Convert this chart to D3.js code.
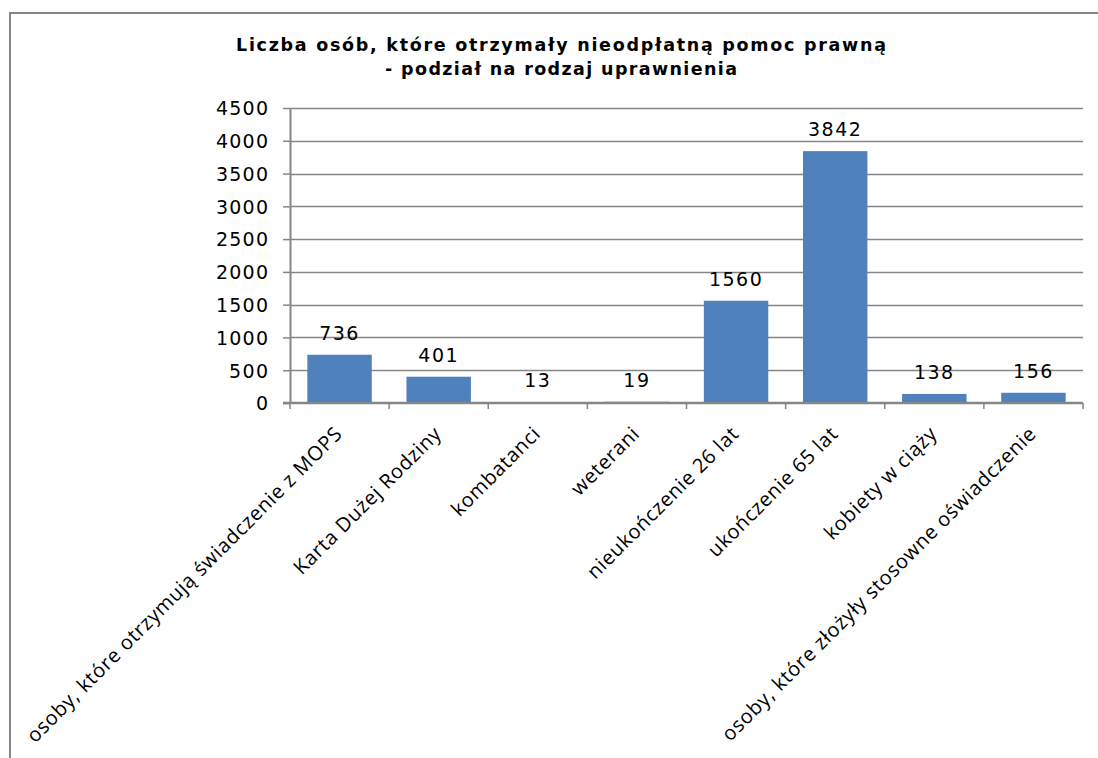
<!DOCTYPE html>
<meta charset="utf-8">
<title>Liczba osób - pomoc prawna</title>
<style>
body { margin: 0; background: white; }
svg { display: block; }
.tick text { font-family: "DejaVu Sans"; }
</style>
<body>
<script src="https://d3js.org/d3.v7.min.js"></script>
<script>

// data
const categories = [
  "osoby, które otrzymują świadczenie z MOPS",
  "Karta Dużej Rodziny",
  "kombatanci",
  "weterani",
  "nieukończenie 26 lat",
  "ukończenie 65 lat",
  "kobiety w ciąży",
  "osoby, które złożyły stosowne oświadczenie"
];
const values = [736, 401, 13, 19, 1560, 3842, 138, 156];
const yTicks = [0, 500, 1000, 1500, 2000, 2500, 3000, 3500, 4000, 4500];
const titleLines = ["Liczba osób, które otrzymały nieodpłatną pomoc prawną", "- podział na rodzaj uprawnienia"];

const W = 1098, H = 758;
const plot = {left: 290, right: 1083, top: 108, bottom: 403};
const grey = "#868686";

const svg = d3.select("body").append("svg")
    .attr("width", W)
    .attr("height", H);

// outer frame (only top and left edges visible)
svg.append("path")
  .attr("d", "M10," + H + "V13H" + W)
  .attr("fill", "none")
  .attr("stroke", grey)
  .attr("stroke-width", 2);

// title - stretched to the widths seen in the picture
var titleWidths = [650, 352];
svg.append("g").selectAll("text")
  .data(titleLines)
  .join("text")
    .attr("x", 561)
    .attr("y", (d, i) => 51 + i * 24)
    .attr("text-anchor", "middle")
    .attr("textLength", (d, i) => titleWidths[i])
    .attr("lengthAdjust", "spacing")
    .style("font-family", "DejaVu Sans")
    .style("font-weight", "bold")
    .style("font-size", "17.5px")
    .text(d => d);

var x = d3.scaleBand()
  .domain(categories)
  .range([plot.left, plot.right])
  .paddingInner(0.35)
  .paddingOuter(0.175);

var y = d3.scaleLinear()
  .domain([0, 4500])
  .range([plot.bottom, plot.top]);

// gridlines
svg.append("g").selectAll("line")
  .data(yTicks.slice(1))
  .join("line")
    .attr("x1", plot.left)
    .attr("x2", plot.right)
    .attr("y1", d => Math.round(y(d)) + 0.5)
    .attr("y2", d => Math.round(y(d)) + 0.5)
    .attr("stroke", grey)
    .attr("stroke-width", 1.3);

// y axis
var yAxis = svg.append("g")
  .attr("transform", "translate(" + plot.left + ",0)")
  .call(d3.axisLeft(y).tickValues(yTicks).tickFormat(d3.format("d")).tickSize(7).tickPadding(15).tickSizeOuter(0));
yAxis.select(".domain").attr("stroke", grey).attr("stroke-width", 2);
yAxis.selectAll(".tick line").attr("stroke", grey).attr("stroke-width", 1.5);
yAxis.selectAll(".tick text").style("font-size", "19px").attr("fill", "#000").attr("dy", "0.36em")
  .attr("textLength", 52).attr("lengthAdjust", "spacing");
yAxis.selectAll(".tick text").filter(d => d < 1000).attr("textLength", d => d === 0 ? null : 39);

// bars
svg.append("g").selectAll("rect")
  .data(values)
  .join("rect")
    .attr("x", (d, i) => x(categories[i]))
    .attr("width", x.bandwidth())
    .attr("y", d => y(d))
    .attr("height", d => y(0) - y(d))
    .attr("fill", "#4F81BD");

// data labels
svg.append("g").selectAll("text")
  .data(values)
  .join("text")
    .attr("x", (d, i) => x(categories[i]) + x.bandwidth() / 2)
    .attr("y", d => y(d) - 15)
    .attr("text-anchor", "middle")
    .style("font-family", "DejaVu Sans")
    .style("font-size", "19px")
    .style("letter-spacing", "1.5px")
    .text(d => d);

// x axis: boundary ticks between categories
var step = x.step();
var bounds = d3.range(categories.length + 1).map(i => plot.left + i * step);
svg.append("g").selectAll("line")
  .data(bounds)
  .join("line")
    .attr("x1", d => d)
    .attr("x2", d => d)
    .attr("y1", plot.bottom)
    .attr("y2", plot.bottom + 6)
    .attr("stroke", grey)
    .attr("stroke-width", 1.5);
svg.append("line")
  .attr("x1", plot.left - 7)
  .attr("x2", plot.right)
  .attr("y1", plot.bottom)
  .attr("y2", plot.bottom)
  .attr("stroke", grey)
  .attr("stroke-width", 2.5);

// rotated category labels
svg.append("g").selectAll("text")
  .data(categories)
  .join("text")
    .attr("transform", d => "translate(" + (x(d) + x.bandwidth() / 2 + 4) + "," + (plot.bottom + 32) + ") rotate(-45)")
    .attr("text-anchor", "end")
    .style("font-family", "Open Sans")
    .style("font-size", "20px")
    .style("letter-spacing", "0.7px")
    .text(d => d);

</script>
</body>
